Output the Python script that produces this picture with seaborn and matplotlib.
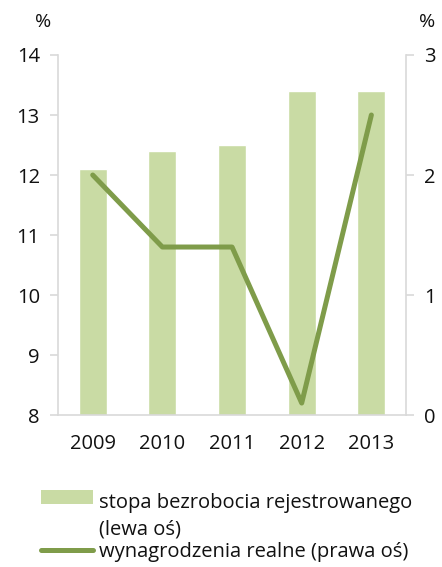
import matplotlib
matplotlib.use("Agg")
import matplotlib.pyplot as plt
from matplotlib.patches import Patch
from matplotlib.lines import Line2D
from matplotlib.ticker import FixedLocator
import seaborn as sns
import pandas as pd

years = ["2009", "2010", "2011", "2012", "2013"]
unemployment = [12.1, 12.4, 12.5, 13.4, 13.4]
real_wages = [2.0, 1.4, 1.4, 0.1, 2.5]

bar_label = "stopa bezrobocia rejestrowanego\n(lewa oś)"
line_label = "wynagrodzenia realne (prawa oś)"

bar_color = "#c9dba4"
line_color = "#7f9c4a"
axis_color = "#d9d9d9"
text_color = "#111111"

sns.set_style("white")
plt.rcParams["font.family"] = ["Open Sans", "DejaVu Sans"]

df = pd.DataFrame({"year": years, "unemp": unemployment, "wages": real_wages})

fig = plt.figure(figsize=(4.42, 5.67), dpi=100)
ax = fig.add_axes([0.131, 0.268, 0.788, 0.635])

sns.barplot(data=df, x="year", y="unemp", color=bar_color, width=0.4,
            saturation=1, ax=ax)
ax.set_ylim(8, 14)
ax.set_yticks(range(8, 15))
ax.set_xlim(-0.5, 4.5)

ax2 = ax.twinx()
sns.pointplot(data=df, x="year", y="wages", color=line_color, marker="",
              linestyle="-", linewidth=3.6, errorbar=None, ax=ax2)
ax2.set_ylim(0, 3)
ax2.set_yticks(range(0, 4))
ax2.set_xlim(-0.5, 4.5)
for l in ax2.lines:
    l.set_solid_capstyle("round")
    l.set_solid_joinstyle("round")

for a in (ax, ax2):
    a.set_xlabel("")
    a.set_ylabel("")
    for s in a.spines.values():
        s.set_visible(False)
    a.tick_params(length=0, labelsize=14.5, colors=text_color)

ax.spines["left"].set_visible(True)
ax.spines["bottom"].set_visible(True)
ax2.spines["right"].set_visible(True)
for s in (ax.spines["left"], ax.spines["bottom"], ax2.spines["right"]):
    s.set_color(axis_color)
    s.set_linewidth(1.2)

ax.tick_params(axis="y", length=6, width=1.2, color=axis_color, pad=7)
ax2.tick_params(axis="y", length=6, width=1.2, color=axis_color, pad=7)
ax.xaxis.set_minor_locator(FixedLocator([i - 0.5 for i in range(len(years) + 1)]))
ax.tick_params(axis="x", which="minor", length=6, width=1.2, color=axis_color)
ax.tick_params(axis="x", which="major", length=0, pad=14)
ax2.tick_params(axis="x", which="both", length=0, labelbottom=False)

fig.text(0.098, 0.962, "%", fontsize=14, ha="center", va="center", color=text_color)
fig.text(0.966, 0.962, "%", fontsize=14, ha="center", va="center", color=text_color)

handles = [Patch(facecolor=bar_color, edgecolor="none"),
           Line2D([0], [0], color=line_color, lw=3.6, solid_capstyle="round")]
leg = fig.legend(handles, [bar_label, line_label], loc="lower left",
                 bbox_to_anchor=(0.065, -0.012), frameon=False, fontsize=14.5,
                 handlelength=2.6, handleheight=0.7, handletextpad=0.3,
                 labelspacing=0.1, borderaxespad=0.2, labelcolor=text_color)
for t in leg.get_texts():
    t.set_linespacing(1.45)
# keep the bar swatch level with the first line of its label
patch = leg.legend_handles[0]
patch.set_y(patch.get_y() + 14)

fig.savefig("out.png", dpi=100)
